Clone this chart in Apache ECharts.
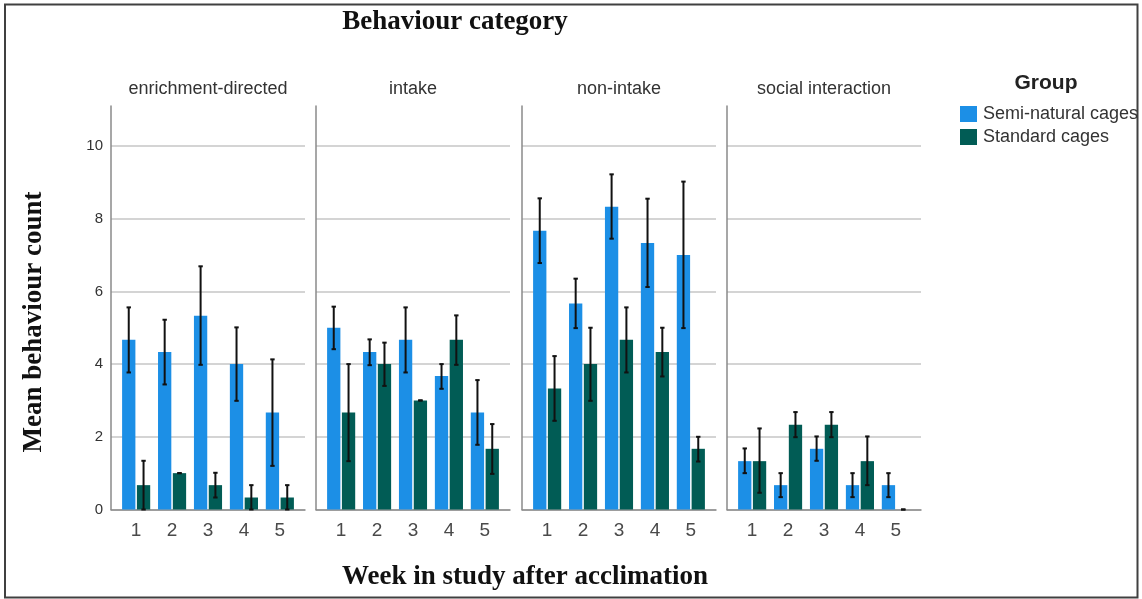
<!DOCTYPE html>
<html>
<head>
<meta charset="utf-8">
<script src="https://cdn.jsdelivr.net/npm/echarts@6/dist/echarts.min.js"></script>
<style>
html,body{margin:0;padding:0;background:#fff;}
#chart{width:1142px;height:599px;}
</style>
</head>
<body>
<div id="chart"></div>
<script>
// ---- data ----
const categories = ['enrichment-directed', 'intake', 'non-intake', 'social interaction'];
const weeks = [1, 2, 3, 4, 5];
const groups = ['Semi-natural cages', 'Standard cages'];
const yTicks = [0, 2, 4, 6, 8, 10];

const enrichSemi = [4.67, 4.33, 5.33, 4.00, 2.67];
const enrichSemiErr = [[3.77, 5.56], [3.44, 5.22], [3.98, 6.69], [2.99, 5.01], [1.20, 4.13]];
const enrichStd = [0.67, 1.00, 0.67, 0.33, 0.33];
const enrichStdErr = [[0, 1.34], [1.0, 1.0], [0.33, 1.01], [0, 0.67], [0, 0.67]];

const intakeSemi = [5.00, 4.33, 4.67, 3.67, 2.67];
const intakeSemiErr = [[4.41, 5.58], [3.97, 4.68], [3.77, 5.56], [3.32, 4.00], [1.78, 3.56]];
const intakeStd = [2.67, 4.00, 3.00, 4.67, 1.67];
const intakeStdErr = [[1.33, 4.00], [3.40, 4.59], [3.0, 3.0], [3.98, 5.34], [0.98, 2.35]];

const nonIntakeSemi = [7.67, 5.67, 8.33, 7.33, 7.00];
const nonIntakeSemiErr = [[6.78, 8.56], [4.99, 6.35], [7.45, 9.22], [6.12, 8.55], [4.99, 9.02]];
const nonIntakeStd = [3.33, 4.00, 4.67, 4.33, 1.67];
const nonIntakeStdErr = [[2.44, 4.22], [2.99, 5.00], [3.77, 5.56], [3.66, 5.00], [1.32, 2.00]];

const socialSemi = [1.33, 0.67, 1.67, 0.67, 0.67];
const socialSemiErr = [[1.0, 1.68], [0.34, 1.0], [1.34, 2.01], [0.34, 1.0], [0.34, 1.0]];
const socialStd = [1.33, 2.33, 2.33, 1.33, 0];
const socialStdErr = [[0.46, 2.23], [1.99, 2.68], [1.99, 2.68], [0.67, 2.01], [0, 0]];

// ---- layout / style ----
const semiValues = [enrichSemi, intakeSemi, nonIntakeSemi, socialSemi];
const semiErrors = [enrichSemiErr, intakeSemiErr, nonIntakeSemiErr, socialSemiErr];
const stdValues = [enrichStd, intakeStd, nonIntakeStd, socialStd];
const stdErrors = [enrichStdErr, intakeStdErr, nonIntakeStdErr, socialStdErr];

const COLORS = ['#1c8fe6', '#015c55'];
const gridLefts = [111, 316, 522, 727];
const GRID_W = 194, GRID_TOP = 106, GRID_H = 403.5;
const BAR_W = 13.3, BAR_GAP_PX = 1.5;
const SHIFT = (BAR_W + BAR_GAP_PX) / 2;
const SANS = '"Liberation Sans", Arial, sans-serif';
const SERIF = '"Liberation Serif", "Times New Roman", serif';

const chart = echarts.init(document.getElementById('chart'), null, {renderer: 'canvas'});

const grids = [], xAxes = [], yAxes = [], series = [];
const gridColors = yTicks.map(() => '#c6c6c6').concat(['rgba(0,0,0,0)']);

function errRender(sign) {
  return function (params, api) {
    const x = api.value(0), lo = api.value(1), hi = api.value(2);
    const pLo = api.coord([x, lo]);
    const pHi = api.coord([x, hi]);
    const cx = pLo[0] + sign * SHIFT;
    const st = {stroke: '#111', lineWidth: 2};
    const cap = 2.2;
    return {
      type: 'group',
      children: [
        {type: 'line', shape: {x1: cx, y1: pLo[1], x2: cx, y2: pHi[1]}, style: st},
        {type: 'line', shape: {x1: cx - cap, y1: pHi[1], x2: cx + cap, y2: pHi[1]}, style: st},
        {type: 'line', shape: {x1: cx - cap, y1: pLo[1], x2: cx + cap, y2: pLo[1]}, style: st}
      ]
    };
  };
}

categories.forEach((cat, i) => {
  grids.push({left: gridLefts[i], top: GRID_TOP, width: GRID_W, height: GRID_H, containLabel: false});
  xAxes.push({
    type: 'value', gridIndex: i, min: 0.3, max: 5.7,
    axisLine: {show: true, onZero: false, lineStyle: {color: '#8a8a8a', width: 1.5}},
    axisTick: {show: false},
    splitLine: {show: false},
    axisLabel: {customValues: weeks, fontFamily: SANS, fontSize: 19, color: '#4a4a4a', margin: 12}
  });
  yAxes.push({
    type: 'value', gridIndex: i, min: 0, max: 11.1, interval: 2,
    axisLine: {show: true, lineStyle: {color: '#8a8a8a', width: 1.5}},
    axisTick: {show: false},
    splitLine: {show: true, lineStyle: {color: gridColors, width: 1.5}},
    axisLabel: {show: i === 0, showMaxLabel: false, fontFamily: SANS, fontSize: 15, color: '#333', margin: 8}
  });
  series.push({
    name: groups[0], type: 'bar', xAxisIndex: i, yAxisIndex: i,
    barWidth: BAR_W, barGap: (BAR_GAP_PX / BAR_W * 100).toFixed(1) + '%',
    itemStyle: {color: COLORS[0]},
    data: weeks.map((w, k) => [w, semiValues[i][k]]),
    z: 2
  });
  series.push({
    name: groups[1], type: 'bar', xAxisIndex: i, yAxisIndex: i,
    barWidth: BAR_W, barGap: (BAR_GAP_PX / BAR_W * 100).toFixed(1) + '%',
    itemStyle: {color: COLORS[1]},
    data: weeks.map((w, k) => [w, stdValues[i][k]]),
    z: 2
  });
  series.push({
    type: 'custom', xAxisIndex: i, yAxisIndex: i, z: 4, silent: true,
    renderItem: errRender(-1),
    encode: {x: 0, y: [1, 2]},
    data: weeks.map((w, k) => [w, semiErrors[i][k][0], semiErrors[i][k][1]])
  });
  series.push({
    type: 'custom', xAxisIndex: i, yAxisIndex: i, z: 4, silent: true,
    renderItem: errRender(1),
    encode: {x: 0, y: [1, 2]},
    data: weeks.map((w, k) => [w, stdErrors[i][k][0], stdErrors[i][k][1]])
  });
});

const graphics = [
  {type: 'rect', shape: {x: 5, y: 4.5, width: 1132.5, height: 593}, style: {fill: 'none', stroke: '#404040', lineWidth: 2}, silent: true},
  {type: 'text', x: 455, y: 22.5, style: {text: 'Behaviour category', font: 'bold 27px ' + SERIF, fill: '#111', align: 'center', verticalAlign: 'middle'}},
  {type: 'text', x: 525, y: 577.5, style: {text: 'Week in study after acclimation', font: 'bold 27px ' + SERIF, fill: '#111', align: 'center', verticalAlign: 'middle'}},
  {type: 'text', x: 34, y: 322, rotation: Math.PI / 2, style: {text: 'Mean behaviour count', font: 'bold 27px ' + SERIF, fill: '#111', align: 'center', verticalAlign: 'middle'}},
  {type: 'text', x: 1046, y: 83, style: {text: 'Group', font: 'bold 21px ' + SANS, fill: '#222', align: 'center', verticalAlign: 'middle'}}
];
categories.forEach((cat, i) => {
  graphics.push({type: 'text', x: gridLefts[i] + GRID_W / 2, y: 89,
    style: {text: cat, font: '18px ' + SANS, fill: '#333', align: 'center', verticalAlign: 'middle'}});
});

chart.setOption({
  animation: false,
  backgroundColor: '#fff',
  grid: grids,
  xAxis: xAxes,
  yAxis: yAxes,
  legend: {
    data: groups, orient: 'vertical', left: 955, top: 100,
    itemWidth: 17, itemHeight: 16, itemGap: 5,
    icon: 'rect',
    textStyle: {fontFamily: SANS, fontSize: 18, color: '#333', padding: [0, 0, 0, 1]},
    selectedMode: false
  },
  graphic: graphics,
  series: series
});
</script>
</body>
</html>
